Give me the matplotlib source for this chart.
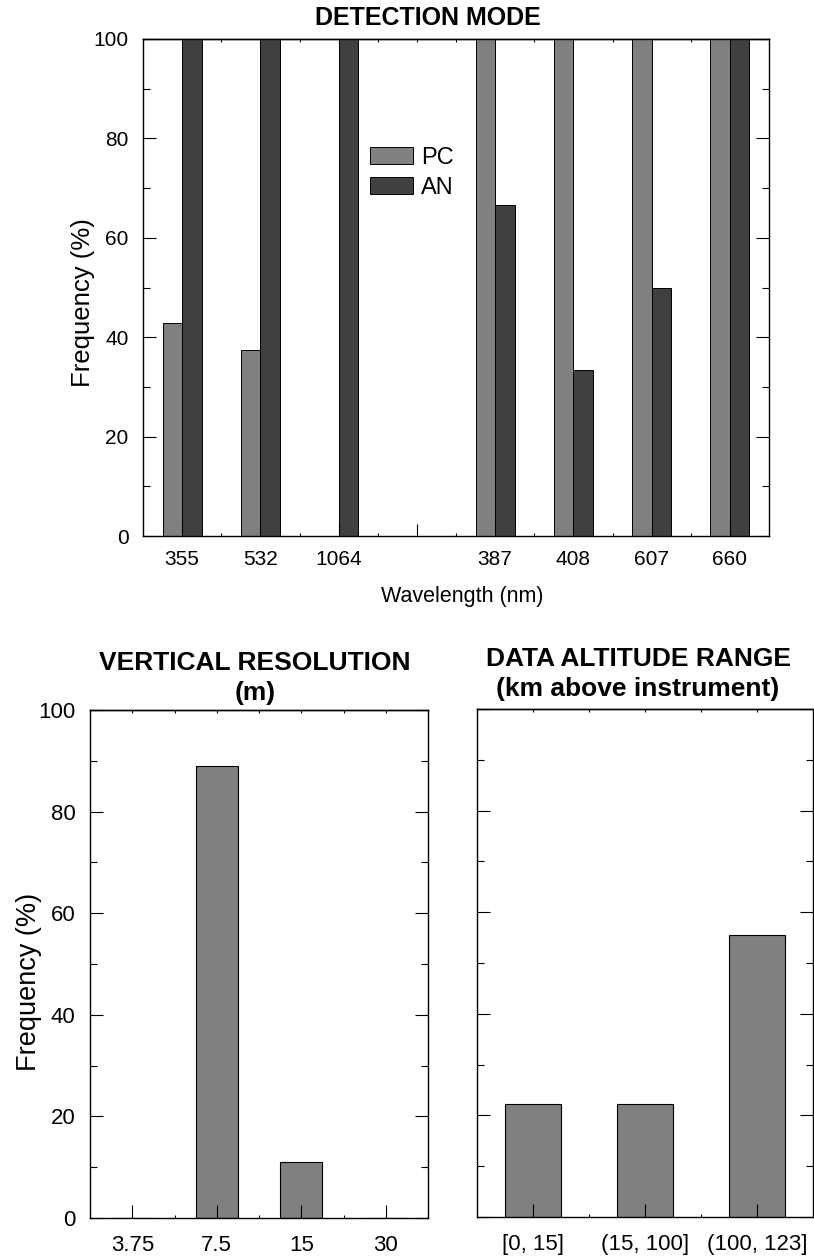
import numpy as np
import matplotlib
matplotlib.use("Agg")
import matplotlib.pyplot as plt
from matplotlib.ticker import MultipleLocator, FixedLocator

# ---------------- data ----------------
wavelengths = ['355', '532', '1064', '', '387', '408', '607', '660']
pc_freq = [42.9, 37.5, 0.0, np.nan, 100.0, 100.0, 100.0, 100.0]
an_freq = [100.0, 100.0, 100.0, np.nan, 66.7, 33.3, 50.0, 100.0]

resolution_labels = ['3.75', '7.5', '15', '30']
resolution_freq = [0.0, 88.9, 11.1, 0.0]

altitude_labels = ['[0, 15]', '(15, 100]', '(100, 123]']
altitude_freq = [22.2, 22.2, 55.6]

PC_COLOR = '#808080'
AN_COLOR = '#404040'

plt.rcParams['font.family'] = ['Liberation Sans', 'DejaVu Sans']

W, H = 814, 1258
fig = plt.figure(figsize=(W / 100, H / 100), dpi=100)


def rect(left, top, right, bottom):
    return [left / W, 1 - bottom / H, (right - left) / W, (bottom - top) / H]


def style_axis(ax, ylen_major=9.4, ylen_minor=5.0):
    for sp in ax.spines.values():
        sp.set_linewidth(1.0)
        sp.set_color('black')
    ax.set_ylim(0, 100)
    ax.yaxis.set_major_locator(MultipleLocator(20))
    ax.yaxis.set_minor_locator(MultipleLocator(10))
    ax.tick_params(axis='y', which='major', direction='in', length=ylen_major,
                   width=0.8, left=True, right=True)
    ax.tick_params(axis='y', which='minor', direction='in', length=ylen_minor,
                   width=0.8, left=True, right=True)


# ---------------- top: detection mode ----------------
ax1 = fig.add_axes(rect(143, 39, 769, 536))
x1 = np.arange(1, len(wavelengths) + 1)
bw = 0.25
b_pc = ax1.bar(x1 - bw / 2, pc_freq, width=bw, color=PC_COLOR,
               edgecolor='black', linewidth=0.7, label='PC')
b_an = ax1.bar(x1 + bw / 2, an_freq, width=bw, color=AN_COLOR,
               edgecolor='black', linewidth=0.7, label='AN')
ax1.set_xlim(0.5, len(wavelengths) + 0.5)
style_axis(ax1)
ax1.set_xticks(x1)
ax1.set_xticklabels(wavelengths)
ax1.xaxis.set_minor_locator(FixedLocator(x1[:-1] + 0.5))
ax1.tick_params(axis='x', which='major', direction='in', length=8.6, width=0.8,
                top=False, labelsize=15, pad=10)
ax1.tick_params(axis='x', which='minor', direction='in', length=2.5, width=0.8,
                top=False)
ax1.tick_params(axis='y', labelsize=15, pad=10.5)
sec1 = ax1.secondary_xaxis('top')
sec1.set_xticks(list(x1) + list(x1[:-1] + 0.5))
sec1.tick_params(direction='in', length=2.5, width=0.8, labeltop=False)
sec1.spines['top'].set_linewidth(1.0)

leg = ax1.legend(handles=[b_pc, b_an], labels=['PC', 'AN'], frameon=False,
                 fontsize=17, handlelength=1.82, handleheight=0.72,
                 handletextpad=0.34, labelspacing=0.32, borderpad=0,
                 borderaxespad=0, loc='upper left',
                 bbox_to_anchor=(370 / W, 1 - 147 / H),
                 bbox_transform=fig.transFigure)

fig.text(428 / W, 1 - 18 / H, 'DETECTION MODE', ha='center', va='center',
         fontsize=18, fontweight='bold')
fig.text(462 / W, 1 - 597 / H, 'Wavelength (nm)', ha='center', va='center',
         fontsize=15.5)
fig.text(83 / W, 1 - 303 / H, 'Frequency (%)', ha='center', va='center',
         rotation=90, fontsize=18.5)

# ---------------- bottom left: vertical resolution ----------------
ax2 = fig.add_axes(rect(90, 710, 428, 1218))
x2 = np.arange(len(resolution_labels))
ax2.bar(x2, resolution_freq, width=0.5, color=PC_COLOR, edgecolor='black',
        linewidth=0.8)
ax2.set_xlim(-0.5, len(resolution_labels) - 0.5)
style_axis(ax2)
ax2.set_xticks(x2)
ax2.set_xticklabels(resolution_labels)
ax2.xaxis.set_minor_locator(FixedLocator(x2[:-1] + 0.5))
ax2.tick_params(axis='x', which='major', direction='in', length=9.4, width=0.8,
                top=False, labelsize=16, pad=12)
ax2.tick_params(axis='x', which='minor', direction='in', length=2.5, width=0.8,
                top=False)
ax2.tick_params(axis='y', labelsize=16, pad=10.5)
sec2 = ax2.secondary_xaxis('top')
sec2.set_xticks(list(x2) + list(x2[:-1] + 0.5))
sec2.tick_params(direction='in', length=2.5, width=0.8, labeltop=False)
sec2.spines['top'].set_linewidth(1.0)
fig.text(255 / W, 1 - 678 / H, 'VERTICAL RESOLUTION\n(m)', ha='center',
         va='center', fontsize=19, fontweight='bold', linespacing=1.3)
fig.text(29 / W, 1 - 982 / H, 'Frequency (%)', ha='center', va='center',
         rotation=90, fontsize=19.5)

# ---------------- bottom right: data altitude range ----------------
ax3 = fig.add_axes(rect(477, 709, 813, 1217))
x3 = np.arange(len(altitude_labels))
ax3.bar(x3, altitude_freq, width=0.5, color=PC_COLOR, edgecolor='black',
        linewidth=0.8)
ax3.set_xlim(-0.5, len(altitude_labels) - 0.5)
style_axis(ax3)
ax3.set_xticks(x3)
ax3.set_xticklabels(altitude_labels)
ax3.xaxis.set_minor_locator(FixedLocator(x3[:-1] + 0.5))
ax3.tick_params(axis='x', which='major', direction='in', length=9.4, width=0.8,
                top=False, labelsize=16, pad=12)
ax3.tick_params(axis='x', which='minor', direction='in', length=2.5, width=0.8,
                top=False)
ax3.tick_params(axis='y', labelleft=False)
sec3 = ax3.secondary_xaxis('top')
sec3.set_xticks(list(x3) + list(x3[:-1] + 0.5))
sec3.tick_params(direction='in', length=2.5, width=0.8, labeltop=False)
sec3.spines['top'].set_linewidth(1.0)
fig.text(638 / W, 1 - 674 / H, 'DATA ALTITUDE RANGE\n(km above instrument)',
         ha='center', va='center', fontsize=19, fontweight='bold',
         linespacing=1.3)

fig.savefig('out.png', dpi=100)
